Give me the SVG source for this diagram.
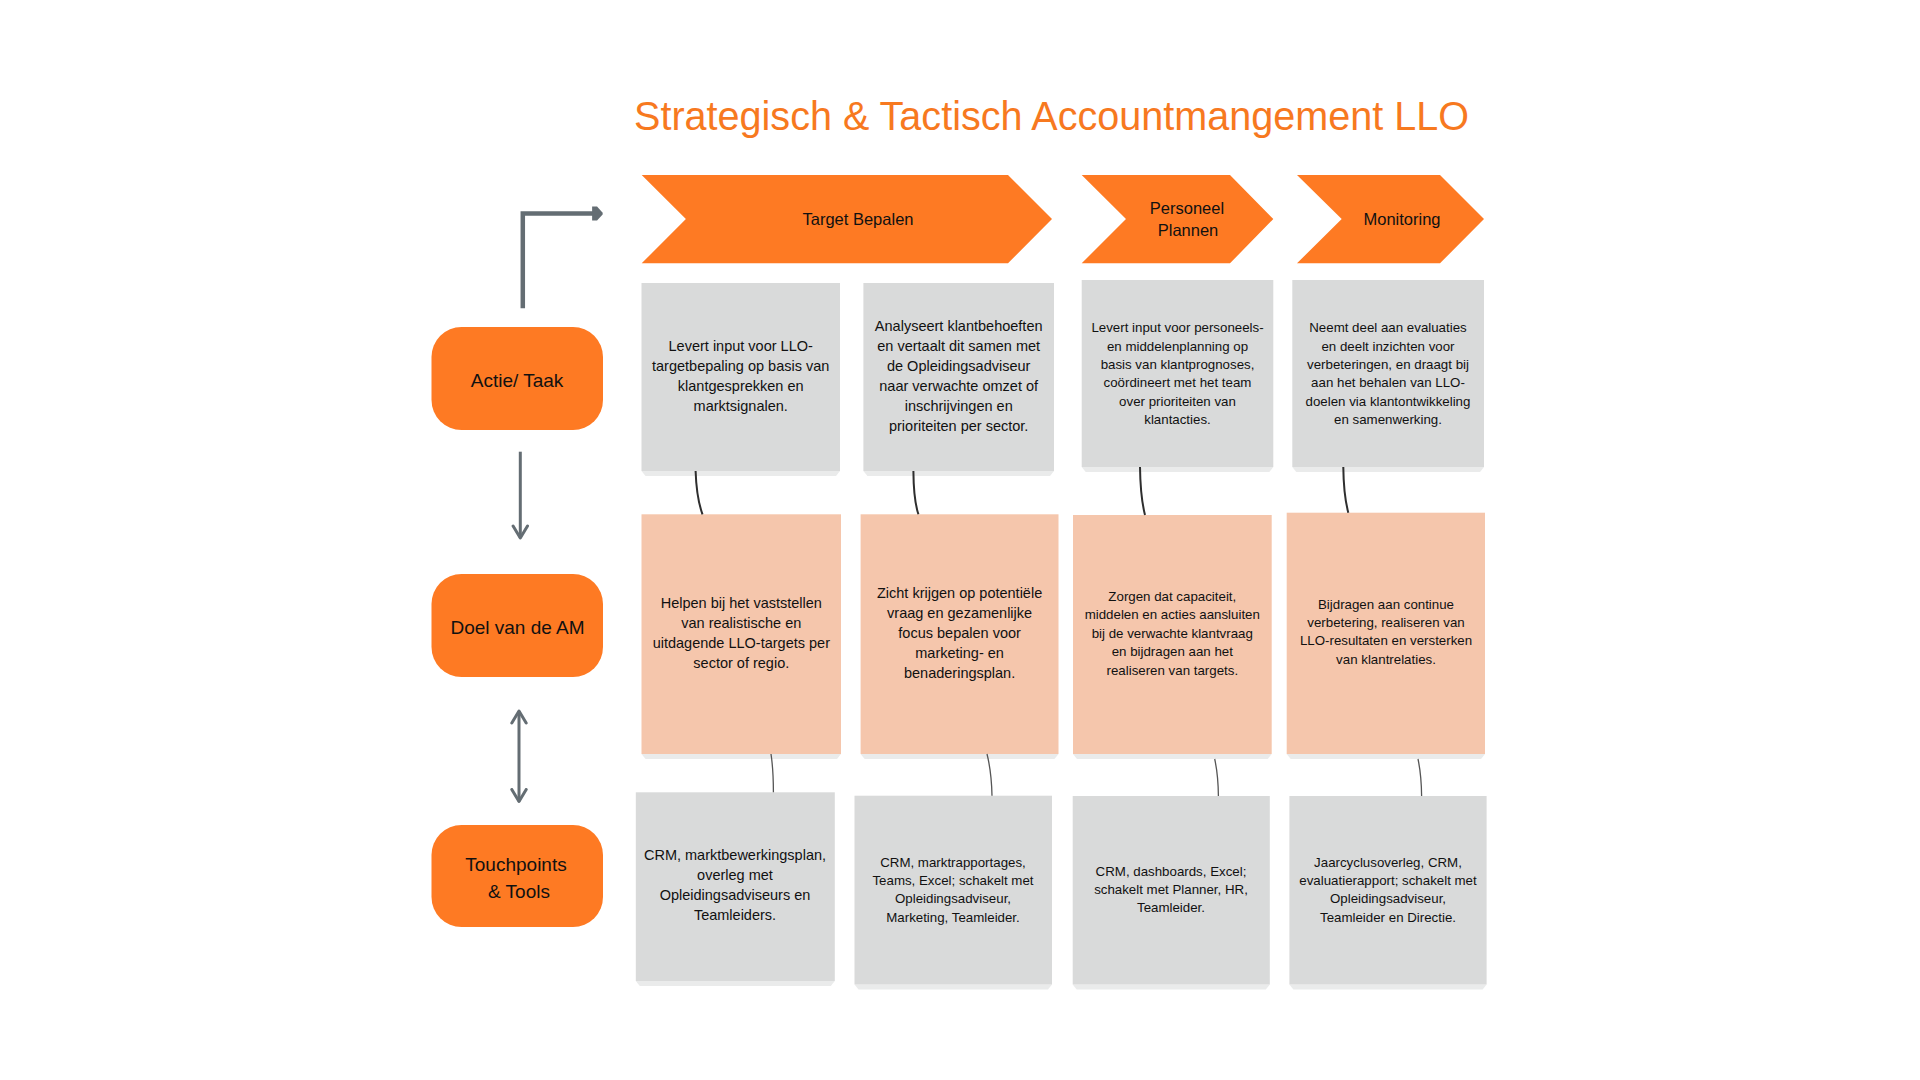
<svg xmlns="http://www.w3.org/2000/svg" width="1920" height="1080" viewBox="0 0 1920 1080">
  <style>
    text { font-family: "Liberation Sans", Arial, sans-serif; fill: #111111; text-anchor: middle; }
    .title { fill: #F7791F; font-size: 41px; text-anchor: start; }
    .chev { fill: #FE7A23; }
    .chevt { font-size: 16.5px; }
    .side { fill: #FE7A23; }
    .sidet { font-size: 19px; }
    .gray { fill: #D9DADA; }
    .peach { fill: #F5C6AC; }
    .shadow { fill: #EAEBEB; }
    .tl { font-size: 14.5px; }
    .ts { font-size: 13.3px; }
    .arrow { stroke: #646D73; stroke-width: 4.5; fill: none; }
    .arrow2 { stroke: #646D73; stroke-width: 3; fill: none; }
    .link1 { stroke: #2E2E2E; stroke-width: 2; fill: none; }
    .link2 { stroke: #555555; stroke-width: 1.3; fill: none; }
  </style>
  <defs>
    <marker id="headFill" markerWidth="3" markerHeight="4" refX="0.2" refY="2" orient="auto" markerUnits="strokeWidth">
      <path d="M0,0.45 L1.1,0.45 L2.3,1.75 Q2.45,2 2.3,2.25 L1.1,3.55 L0,3.55 Z" fill="#646D73"/>
    </marker>
    <marker id="headOpen" markerWidth="6" markerHeight="6" refX="4.6" refY="3" orient="auto-start-reverse" markerUnits="strokeWidth">
      <path d="M0.6,0.6 L4.6,3 L0.6,5.4" fill="none" stroke="#646D73" stroke-width="1" stroke-linecap="round" stroke-linejoin="round"/>
    </marker>
  </defs>
  <rect width="1920" height="1080" fill="#FFFFFF"/>

  <text id="title" class="title" x="634" y="130" textLength="835" lengthAdjust="spacingAndGlyphs">Strategisch &amp; Tactisch Accountmangement LLO</text>

  <!-- Phase chevrons -->
  <g id="phase-target">
    <polygon class="chev" points="641.7,175 1008,175 1052,219 1008,263.3 641.7,263.3 685.9,219"/>
    <text class="chevt" x="858" y="225">Target Bepalen</text>
  </g>
  <g id="phase-personeel">
    <polygon class="chev" points="1081.7,175 1230,175 1273.3,219 1230,263.3 1081.7,263.3 1126,219"/>
    <text class="chevt" x="1187" y="214">Personeel</text>
    <text class="chevt" x="1188" y="236">Plannen</text>
  </g>
  <g id="phase-monitoring">
    <polygon class="chev" points="1297,175 1440,175 1484,219 1440,263.3 1297,263.3 1341.7,219"/>
    <text class="chevt" x="1402" y="225">Monitoring</text>
  </g>

  <!-- Row labels -->
  <g id="label-actie">
    <rect class="side" x="431.5" y="327" width="171.5" height="103" rx="30" ry="30"/>
    <text class="sidet" x="517" y="387">Actie/ Taak</text>
  </g>
  <g id="label-doel">
    <rect class="side" x="431.5" y="574" width="171.5" height="103" rx="30" ry="30"/>
    <text class="sidet" x="517.5" y="634">Doel van de AM</text>
  </g>
  <g id="label-touchpoints">
    <rect class="side" x="431.5" y="825" width="171.5" height="102" rx="30" ry="30"/>
    <text class="sidet" x="516" y="870.5">Touchpoints</text>
    <text class="sidet" x="519" y="897.5">&amp; Tools</text>
  </g>

  <!-- Row 1: Actie / Taak -->
  <g id="actie-1">
    <polygon class="shadow" points="641.5,471 840,471 836,476 645.5,476"/>
    <rect class="gray" x="641.5" y="283" width="198.5" height="188"/>
    <text class="tl" x="740.7" y="351">Levert input voor LLO-</text>
    <text class="tl" x="740.7" y="371">targetbepaling op basis van</text>
    <text class="tl" x="740.7" y="391">klantgesprekken en</text>
    <text class="tl" x="740.7" y="411">marktsignalen.</text>
  </g>
  <g id="actie-2">
    <polygon class="shadow" points="863.4,471 1054,471 1050,476 867.4,476"/>
    <rect class="gray" x="863.4" y="283" width="190.6" height="188"/>
    <text class="tl" x="958.7" y="331">Analyseert klantbehoeften</text>
    <text class="tl" x="958.7" y="351">en vertaalt dit samen met</text>
    <text class="tl" x="958.7" y="371">de Opleidingsadviseur</text>
    <text class="tl" x="958.7" y="391">naar verwachte omzet of</text>
    <text class="tl" x="958.7" y="411">inschrijvingen en</text>
    <text class="tl" x="958.7" y="431">prioriteiten per sector.</text>
  </g>
  <g id="actie-3">
    <polygon class="shadow" points="1081.7,467 1273.3,467 1269.3,472 1085.7,472"/>
    <rect class="gray" x="1081.7" y="280" width="191.6" height="187"/>
    <text class="ts" x="1177.5" y="332.3">Levert input voor personeels-</text>
    <text class="ts" x="1177.5" y="350.6">en middelenplanning op</text>
    <text class="ts" x="1177.5" y="368.9">basis van klantprognoses,</text>
    <text class="ts" x="1177.5" y="387.2">coördineert met het team</text>
    <text class="ts" x="1177.5" y="405.5">over prioriteiten van</text>
    <text class="ts" x="1177.5" y="423.8">klantacties.</text>
  </g>
  <g id="actie-4">
    <polygon class="shadow" points="1292.3,467 1484,467 1480,472 1296.3,472"/>
    <rect class="gray" x="1292.3" y="280" width="191.7" height="187"/>
    <text class="ts" x="1388" y="332.3">Neemt deel aan evaluaties</text>
    <text class="ts" x="1388" y="350.6">en deelt inzichten voor</text>
    <text class="ts" x="1388" y="368.9">verbeteringen, en draagt bij</text>
    <text class="ts" x="1388" y="387.2">aan het behalen van LLO-</text>
    <text class="ts" x="1388" y="405.5">doelen via klantontwikkeling</text>
    <text class="ts" x="1388" y="423.8">en samenwerking.</text>
  </g>

  <!-- Row 2: Doel van de AM -->
  <g id="doel-1">
    <polygon class="shadow" points="641.5,754 841,754 837,759 645.5,759"/>
    <rect class="peach" x="641.5" y="514.3" width="199.5" height="239.7"/>
    <text class="tl" x="741.3" y="608">Helpen bij het vaststellen</text>
    <text class="tl" x="741.3" y="628">van realistische en</text>
    <text class="tl" x="741.3" y="648">uitdagende LLO-targets per</text>
    <text class="tl" x="741.3" y="668">sector of regio.</text>
  </g>
  <g id="doel-2">
    <polygon class="shadow" points="860.6,754 1058.5,754 1054.5,759 864.6,759"/>
    <rect class="peach" x="860.6" y="514.3" width="197.9" height="239.7"/>
    <text class="tl" x="959.6" y="598">Zicht krijgen op potentiële</text>
    <text class="tl" x="959.6" y="618">vraag en gezamenlijke</text>
    <text class="tl" x="959.6" y="638">focus bepalen voor</text>
    <text class="tl" x="959.6" y="658">marketing- en</text>
    <text class="tl" x="959.6" y="678">benaderingsplan.</text>
  </g>
  <g id="doel-3">
    <polygon class="shadow" points="1073,754 1271.7,754 1267.7,759 1077,759"/>
    <rect class="peach" x="1073" y="515" width="198.7" height="239"/>
    <text class="ts" x="1172.3" y="601">Zorgen dat capaciteit,</text>
    <text class="ts" x="1172.3" y="619.4">middelen en acties aansluiten</text>
    <text class="ts" x="1172.3" y="637.8">bij de verwachte klantvraag</text>
    <text class="ts" x="1172.3" y="656.2">en bijdragen aan het</text>
    <text class="ts" x="1172.3" y="674.6">realiseren van targets.</text>
  </g>
  <g id="doel-4">
    <polygon class="shadow" points="1286.7,754 1485,754 1481,759 1290.7,759"/>
    <rect class="peach" x="1286.7" y="512.7" width="198.3" height="241.3"/>
    <text class="ts" x="1386" y="608.6">Bijdragen aan continue</text>
    <text class="ts" x="1386" y="627">verbetering, realiseren van</text>
    <text class="ts" x="1386" y="645.4">LLO-resultaten en versterken</text>
    <text class="ts" x="1386" y="663.8">van klantrelaties.</text>
  </g>

  <!-- Row 3: Touchpoints & Tools -->
  <g id="tools-1">
    <polygon class="shadow" points="635.8,981 834.8,981 830.8,986 639.8,986"/>
    <rect class="gray" x="635.8" y="792.3" width="199" height="188.7"/>
    <text class="tl" x="735" y="859.6">CRM, marktbewerkingsplan,</text>
    <text class="tl" x="735" y="879.6">overleg met</text>
    <text class="tl" x="735" y="899.6">Opleidingsadviseurs en</text>
    <text class="tl" x="735" y="919.6">Teamleiders.</text>
  </g>
  <g id="tools-2">
    <polygon class="shadow" points="854.5,984.5 1052,984.5 1048,989.5 858.5,989.5"/>
    <rect class="gray" x="854.5" y="795.7" width="197.5" height="188.8"/>
    <text class="ts" x="953" y="867">CRM, marktrapportages,</text>
    <text class="ts" x="953" y="885.2">Teams, Excel; schakelt met</text>
    <text class="ts" x="953" y="903.4">Opleidingsadviseur,</text>
    <text class="ts" x="953" y="921.6">Marketing, Teamleider.</text>
  </g>
  <g id="tools-3">
    <polygon class="shadow" points="1072.7,984.5 1269.8,984.5 1265.8,989.5 1076.7,989.5"/>
    <rect class="gray" x="1072.7" y="796" width="197.1" height="188.5"/>
    <text class="ts" x="1171" y="875.5">CRM, dashboards, Excel;</text>
    <text class="ts" x="1171" y="893.8">schakelt met Planner, HR,</text>
    <text class="ts" x="1171" y="912.1">Teamleider.</text>
  </g>
  <g id="tools-4">
    <polygon class="shadow" points="1289.4,984.5 1486.6,984.5 1482.6,989.5 1293.4,989.5"/>
    <rect class="gray" x="1289.4" y="796" width="197.2" height="188.5"/>
    <text class="ts" x="1388" y="867">Jaarcyclusoverleg, CRM,</text>
    <text class="ts" x="1388" y="885.2">evaluatierapport; schakelt met</text>
    <text class="ts" x="1388" y="903.4">Opleidingsadviseur,</text>
    <text class="ts" x="1388" y="921.6">Teamleider en Directie.</text>
  </g>

  <!-- Connectors -->
  <g id="connectors">
    <path class="arrow" d="M522.8,308.3 L522.8,213.5 L593,213.5" marker-end="url(#headFill)"/>
    <path class="arrow2" d="M520.3,451.7 L520.3,538" marker-end="url(#headOpen)"/>
    <path class="arrow2" d="M519,711 L519,801.5" marker-start="url(#headOpen)" marker-end="url(#headOpen)"/>

    <path class="link1" d="M695.6,471 Q696.5,498 702.5,514.3"/>
    <path class="link1" d="M913.4,471 Q913.6,500 918.4,514.3"/>
    <path class="link1" d="M1140,467 Q1140.4,497 1145,515"/>
    <path class="link1" d="M1343.3,467 Q1343.6,495 1348.3,512.7"/>

    <path class="link2" d="M771,754 Q773.4,770 773.4,792.3"/>
    <path class="link2" d="M987,754 Q991.5,772 992,795.7"/>
    <path class="link2" d="M1214.7,759 Q1218.2,775 1218.4,796"/>
    <path class="link2" d="M1418,759 Q1421.4,775 1421.6,796"/>
  </g>
</svg>
